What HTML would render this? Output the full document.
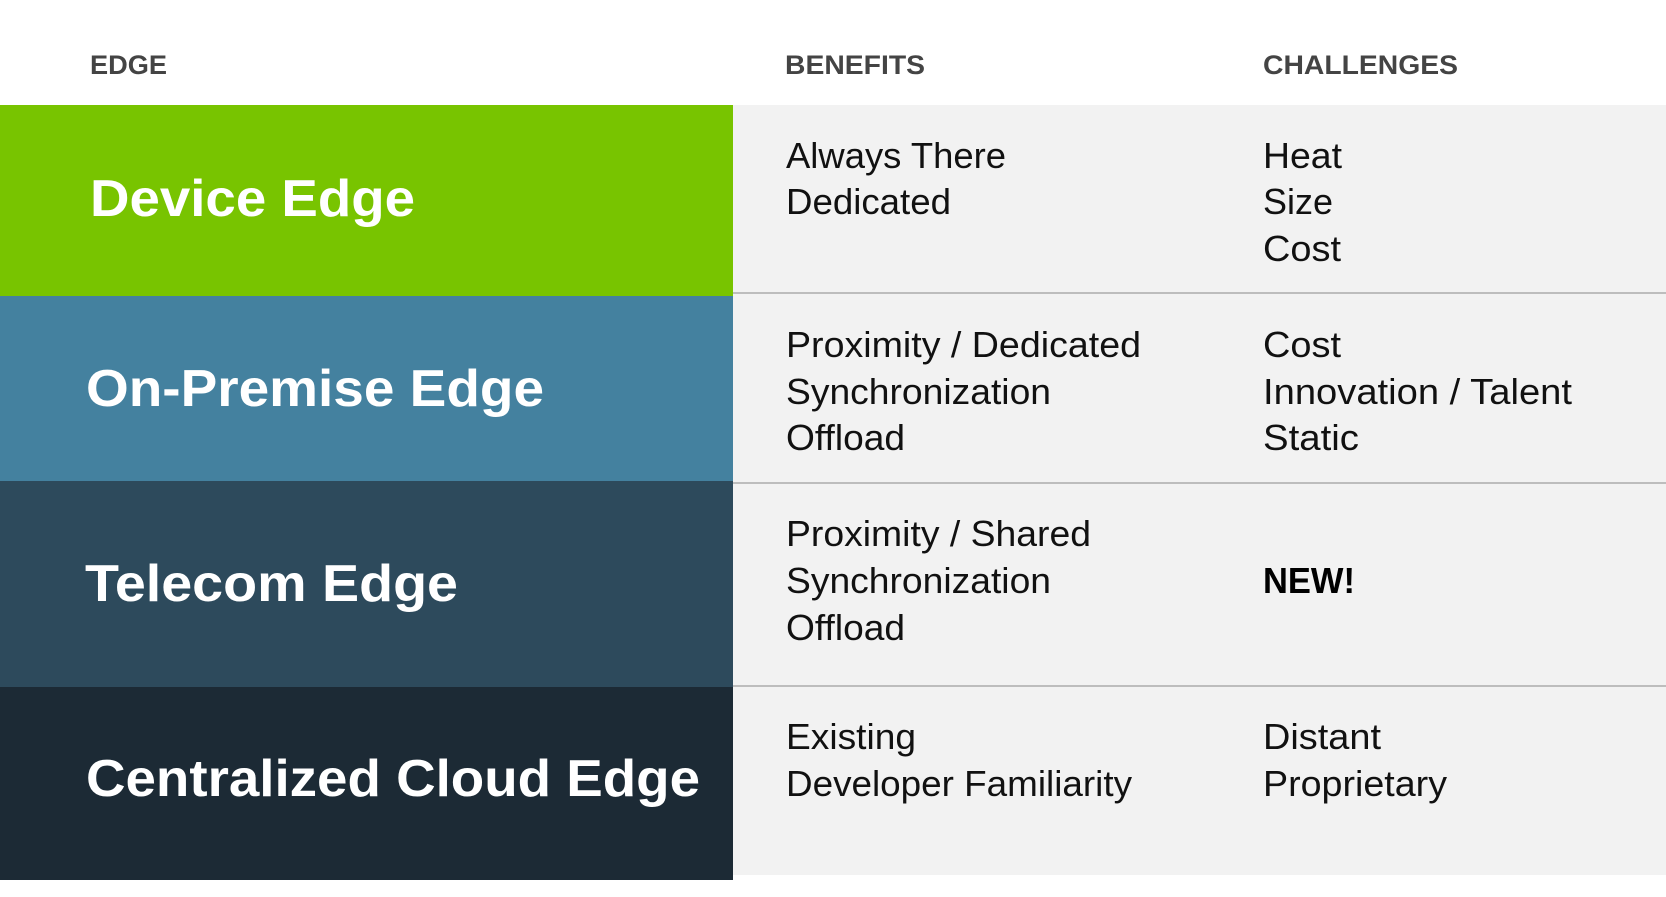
<!DOCTYPE html>
<html><head><meta charset="utf-8"><style>
html,body{margin:0;padding:0;background:#fff;width:1666px;height:897px;overflow:hidden}
svg{display:block}
.h{font-family:"Liberation Sans",sans-serif;font-weight:bold;font-size:27px;fill:#444}
.l{font-family:"Liberation Sans",sans-serif;font-weight:bold;font-size:52px;fill:#fff}
.t{font-family:"Liberation Sans",sans-serif;font-size:36px;fill:#111}
</style></head><body>
<svg width="1666" height="897" xmlns="http://www.w3.org/2000/svg">
<rect x="733" y="105" width="933" height="770" fill="#f2f2f2"/>
<rect x="0" y="105" width="733" height="191" fill="#78c400"/>
<rect x="0" y="296" width="733" height="185" fill="#44819f"/>
<rect x="0" y="481" width="733" height="206" fill="#2d4a5c"/>
<rect x="0" y="687" width="733" height="193" fill="#1c2a35"/>
<rect x="733" y="292" width="933" height="2" fill="#bdbdbd"/>
<rect x="733" y="482" width="933" height="2" fill="#bdbdbd"/>
<rect x="733" y="685" width="933" height="2" fill="#bdbdbd"/>
<text class="h" x="90" y="74" textLength="77" lengthAdjust="spacingAndGlyphs">EDGE</text>
<text class="h" x="785" y="74" textLength="140" lengthAdjust="spacingAndGlyphs">BENEFITS</text>
<text class="h" x="1263" y="74" textLength="195" lengthAdjust="spacingAndGlyphs">CHALLENGES</text>
<text class="l" x="90" y="216" textLength="325" lengthAdjust="spacingAndGlyphs">Device Edge</text>
<text class="l" x="86" y="406" textLength="458" lengthAdjust="spacingAndGlyphs">On-Premise Edge</text>
<text class="l" x="85" y="601" textLength="373" lengthAdjust="spacingAndGlyphs">Telecom Edge</text>
<text class="l" x="86" y="796" textLength="614" lengthAdjust="spacingAndGlyphs">Centralized Cloud Edge</text>
<g class="t">
<text x="786" y="168" textLength="220" lengthAdjust="spacingAndGlyphs">Always There</text>
<text x="786" y="214" textLength="165" lengthAdjust="spacingAndGlyphs">Dedicated</text>
<text x="786" y="357" textLength="355" lengthAdjust="spacingAndGlyphs">Proximity / Dedicated</text>
<text x="786" y="404" textLength="265" lengthAdjust="spacingAndGlyphs">Synchronization</text>
<text x="786" y="450" textLength="119" lengthAdjust="spacingAndGlyphs">Offload</text>
<text x="786" y="546" textLength="305" lengthAdjust="spacingAndGlyphs">Proximity / Shared</text>
<text x="786" y="593" textLength="265" lengthAdjust="spacingAndGlyphs">Synchronization</text>
<text x="786" y="640" textLength="119" lengthAdjust="spacingAndGlyphs">Offload</text>
<text x="786" y="749" textLength="130" lengthAdjust="spacingAndGlyphs">Existing</text>
<text x="786" y="796" textLength="346" lengthAdjust="spacingAndGlyphs">Developer Familiarity</text>
<text x="1263" y="168" textLength="79" lengthAdjust="spacingAndGlyphs">Heat</text>
<text x="1263" y="214" textLength="70" lengthAdjust="spacingAndGlyphs">Size</text>
<text x="1263" y="261" textLength="78" lengthAdjust="spacingAndGlyphs">Cost</text>
<text x="1263" y="357" textLength="78" lengthAdjust="spacingAndGlyphs">Cost</text>
<text x="1263" y="404" textLength="309" lengthAdjust="spacingAndGlyphs">Innovation / Talent</text>
<text x="1263" y="450" textLength="96" lengthAdjust="spacingAndGlyphs">Static</text>
<text x="1263" y="593" font-weight="bold" fill="#000" textLength="92" lengthAdjust="spacingAndGlyphs">NEW!</text>
<text x="1263" y="749" textLength="118" lengthAdjust="spacingAndGlyphs">Distant</text>
<text x="1263" y="796" textLength="184" lengthAdjust="spacingAndGlyphs">Proprietary</text>
</g>
</svg>
</body></html>
